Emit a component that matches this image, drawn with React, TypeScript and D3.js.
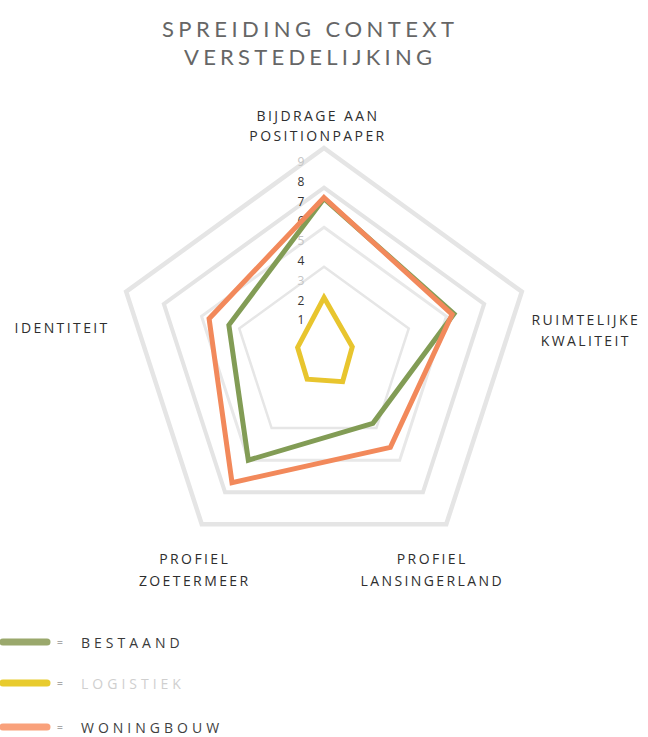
import React from 'react';
import * as d3 from 'd3';

const axisLabels: string[][] = [
  ['BIJDRAGE AAN', 'POSITIONPAPER'],
  ['RUIMTELIJKE', 'KWALITEIT'],
  ['PROFIEL', 'LANSINGERLAND'],
  ['PROFIEL', 'ZOETERMEER'],
  ['IDENTITEIT'],
];
const bestaand = [7.45, 6.4, 3.7, 6.0, 4.55];
const logistiek = [2.45, 1.0, 1.1, 0.95, 0.9];
const woningbouw = [7.5, 6.3, 5.2, 7.4, 5.6];
const gridLevels = [4, 6, 8, 10];
const tickValues = [1, 2, 3, 4, 5, 6, 7, 8, 9];
const fadedTicks = [3, 5, 9];
const titleLines = ['SPREIDING CONTEXT', 'VERSTEDELIJKING'];
const legendNames = ['BESTAAND', 'LOGISTIEK', 'WONINGBOUW'];

const W = 648;
const H = 737;
const cx = 324;
const cy = 356;
const font = "'Open Sans', 'DejaVu Sans', sans-serif";

const series = [
  { name: 'Bestaand', values: bestaand, color: '#829c55' },
  { name: 'Logistiek', values: logistiek, color: '#e8c52e' },
  { name: 'Woningbouw', values: woningbouw, color: '#f2895b' },
];

const legendSwatch = ['#9aa86c', '#e8cb2e', '#f9a17b'];
const legendText = ['#3a3a3a', '#cfcfcf', '#3f3f3f'];

export default function App() {
  const r = d3.scaleLinear().domain([-0.5, 10]).range([0, 208]);
  const n = axisLabels.length;
  const angle = d3.scaleLinear().domain([0, n]).range([0, 2 * Math.PI]);

  const radial = d3
    .lineRadial<number>()
    .angle((_, i) => angle(i))
    .radius((v) => r(v))
    .curve(d3.curveLinearClosed);

  const ringPath = (lvl: number) => radial(d3.range(n).map(() => lvl)) as string;

  const vertex = (i: number, v: number) => {
    const a = angle(i) - Math.PI / 2;
    return [cx + r(v) * Math.cos(a), cy + r(v) * Math.sin(a)];
  };

  // label offsets relative to the outer vertex (layout only)
  const labelOffsets = [
    { dx: -6, dy: -27, lh: 20 },
    { dx: 64, dy: 33, lh: 21 },
    { dx: -14, dy: 40, lh: 22 },
    { dx: -7, dy: 40, lh: 22 },
    { dx: -64, dy: 41, lh: 20 },
  ];

  const ringStyles: Record<number, { w: number; c: string }> = {
    4: { w: 2.5, c: '#e6e6e6' },
    6: { w: 3, c: '#e8e8e8' },
    8: { w: 4, c: '#e4e4e4' },
    10: { w: 4.5, c: '#e5e5e5' },
  };

  const titleWidths = [292, 248];

  return (
    <svg
      width={W}
      height={H}
      style={{ position: 'absolute', left: 0, top: 0, background: '#fff' }}
      fontFamily={font}
    >
      {/* Title */}
      {titleLines.map((t, i) => (
        <text
          key={t}
          x={308}
          y={37 + i * 28}
          textAnchor="middle"
          fontSize={22}
          fontFamily="Lato, 'Open Sans', sans-serif"
          fill="#666"
          textLength={titleWidths[i]}
          lengthAdjust="spacing"
        >
          {t}
        </text>
      ))}

      {/* Grid rings */}
      <g transform={`translate(${cx},${cy})`}>
        {gridLevels.map((lvl) => (
          <path
            key={lvl}
            d={ringPath(lvl)}
            fill="none"
            stroke={ringStyles[lvl].c}
            strokeWidth={ringStyles[lvl].w}
            strokeLinejoin="miter"
          />
        ))}
      </g>

      {/* Tick labels */}
      {tickValues.map((v) => (
        <text
          key={v}
          x={cx - 23}
          y={cy - r(v) - 6}
          dy="0.35em"
          textAnchor="middle"
          fontSize={12}
          fill={fadedTicks.includes(v) ? '#c4c4c4' : '#333'}
        >
          {v}
        </text>
      ))}

      {/* Series */}
      <g transform={`translate(${cx},${cy})`}>
        {[1, 0, 2].map((si) => {
          const s = series[si];
          return (
            <path
              key={s.name}
              d={radial(s.values) as string}
              fill="none"
              stroke={s.color}
              strokeWidth={5}
              strokeLinejoin="miter"
            />
          );
        })}
      </g>

      {/* Axis labels */}
      {axisLabels.map((lines, i) => {
        const [vx, vy] = vertex(i, 10);
        const o = labelOffsets[i];
        return (
          <text
            key={i}
            textAnchor="middle"
            fontSize={14}
            fill="#2e2e2e"
            letterSpacing={2.4}
          >
            {lines.map((ln, j) => (
              <tspan key={j} x={vx + o.dx} y={vy + o.dy + j * o.lh}>
                {ln}
              </tspan>
            ))}
          </text>
        );
      })}

      {/* Legend */}
      {legendNames.map((name, i) => {
        const y = [642, 683, 727][i];
        return (
          <g key={name}>
            <line
              x1={3}
              x2={47}
              y1={y}
              y2={y}
              stroke={legendSwatch[i]}
              strokeWidth={7}
              strokeLinecap="round"
            />
            <text x={60} y={y + 4} fontSize={11} textAnchor="middle" fill="#666">
              =
            </text>
            <text
              x={81}
              y={y + 6}
              fontSize={14}
              fill={legendText[i]}
              letterSpacing={4}
            >
              {name}
            </text>
          </g>
        );
      })}
    </svg>
  );
}
